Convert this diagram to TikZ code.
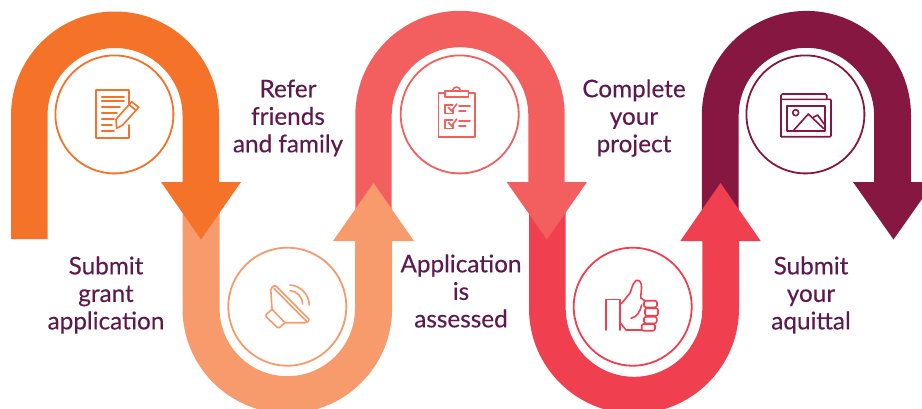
\documentclass[tikz,border=0pt]{standalone}
\usepackage{fontspec}
\setmainfont[FakeBold=0.25]{Lato}
\definecolor{cOrange}{HTML}{F47328}
\definecolor{cPeach}{HTML}{F79A6C}
\definecolor{cCoral}{HTML}{F35F5F}
\definecolor{cRed}{HTML}{F0404F}
\definecolor{cMaroon}{HTML}{861741}
\definecolor{cText}{HTML}{5E1A4E}
\tikzset{
  ring/.style={circle,draw=#1,fill=white,line width=1.8pt,minimum size=118pt,inner sep=0pt},
  icon/.style={draw=#1,line width=1.6pt,line join=round,line cap=round,fill=none},
  lbl/.style={text=cText,align=center,font=\fontsize{24.3}{27.5}\selectfont,inner sep=0pt}
}
\newcommand{\archshape}[8]{% colour,cx,cy,R,r,legend,headL,headR
  \fill[#1] (#2-#4,#6) -- (#2-#4,#3) arc[start angle=180,end angle=0,radius=#4pt]
    -- (#2+#4,182) -- (#8,182) -- ({(#7+#8)/2},239.5) -- (#7,182) -- (#2+#5,182)
    -- (#2+#5,#3) arc[start angle=0,end angle=180,radius=#5pt] -- (#2-#5,#6) -- cycle;
}
\newcommand{\ushape}[8]{% colour,cx,cy,R,r,legend,headL,headR
  \fill[#1] (#2-#4,#6) -- (#2-#4,#3) arc[start angle=180,end angle=360,radius=#4pt]
    -- (#2+#4,241) -- (#8,241) -- ({(#7+#8)/2},183) -- (#7,241) -- (#2+#5,241)
    -- (#2+#5,#3) arc[start angle=360,end angle=180,radius=#5pt] -- (#2-#5,#6) -- cycle;
}
\begin{document}
\begin{tikzpicture}[x=1pt,y=-1pt]
\useasboundingbox (0,0) rectangle (922,408);
\begin{scope}
\clip (0,0) rectangle (922,408);
\archshape{cMaroon}{806.4}{115.5}{104.6}{67.7}{225}{853}{934}
\ushape{cRed}{634}{308.5}{105}{68.3}{195}{680.3}{760.7}
\archshape{cCoral}{460}{115.5}{104.7}{68.3}{225}{506.7}{587}
\ushape{cPeach}{287.3}{308.5}{104.8}{67.7}{195}{333}{414}
\archshape{cOrange}{115}{115.5}{104}{67.5}{239}{161}{241}
\end{scope}
% circles
\node[ring=cOrange] (c1) at (114.4,114.4) {};
\node[ring=cPeach] (c2) at (287.3,306.7) {};
\node[ring=cCoral] (c3) at (459.7,114.4) {};
\node[ring=cRed] (c4) at (632.7,306.7) {};
\node[ring=cMaroon] (c5) at (805.4,114.4) {};
% labels
\node[lbl] (t1) at (106,295) {Submit\\grant\\application};
\node[lbl] (t2) at (288,118) {Refer\\friends\\and family};
\node[lbl] (t3) at (461,291) {Application\\is\\assessed};
\node[lbl] (t4) at (634,118) {Complete\\your\\project};
\node[lbl] (t5) at (811,295) {Submit\\your\\aquittal};
% icon 1: document with pencil
\draw[icon=cOrange] (129,105) -- (129,90) -- (96,90) -- (96,138) -- (129,138) -- (129,125);
\foreach \yy/\xx in {97/124,101/124,107/120,113/117,119/114,125/112,131/114}
  \draw[icon=cOrange] (101.7,\yy) -- (\xx,\yy);
\draw[icon=cOrange] (116,119.3) -- (131.7,101.7) -- (138.7,107.3) -- (122.7,125) -- (116.7,128.3) -- cycle;
\draw[icon=cOrange] (129,104.5) -- (135.8,110.2);
% icon 2: loudspeaker
\draw[icon=cPeach,rounded corners=1.5pt] (270.7,288.3) -- (275,285) -- (309.8,320) -- (306.7,322.7) -- (285,322.7) -- (272,309.3) -- cycle;
\draw[icon=cPeach] (274,288.5) -- (306.7,321.5);
\draw[icon=cPeach,rounded corners=1.5pt] (272,309.3) -- (265,315.5) -- (278.3,328.5) -- (285,322.7);
\draw[icon=cPeach] (290,285) .. controls (300,285.5) and (309,294) .. (309.3,305);
\draw[icon=cPeach] (290,290.7) .. controls (297,291) and (302.5,297) .. (302.7,304);
% icon 3: clipboard
\draw[icon=cCoral] (445,92.7) -- (438.3,92.7) -- (438.3,136.7) -- (475,136.7) -- (475,92.7) -- (468.3,92.7);
\draw[icon=cCoral] (445,91) rectangle (468.3,96.7);
\draw[icon=cCoral] (452.5,91) arc[start angle=180,end angle=0,radius=4pt];
\foreach \dy in {0,15}{
  \draw[icon=cCoral] (452.7,{105+\dy}) -- (445,{105+\dy}) -- (445,{113.3+\dy}) -- (452.7,{113.3+\dy}) -- (452.7,{110+\dy});
  \draw[icon=cCoral] (448.5,{107.5+\dy}) -- (451.5,{111+\dy}) -- (456.7,{104+\dy});
  \draw[icon=cCoral] (459,{106+\dy}) -- (470,{106+\dy});
  \draw[icon=cCoral] (459,{110.7+\dy}) -- (465.7,{110.7+\dy});
}
% icon 4: thumb up
\draw[icon=cRed] (606,330) -- (606,299.3) -- (620,299.3) -- (620,330);
\draw[icon=cRed] (620,304) -- (622,303) -- (630,293) .. controls (632,289) and (632,284) .. (636,280.5) .. controls (640,279) and (642,284) .. (641.5,288) -- (640.7,298) -- (645,300.7);
\draw[icon=cRed,rounded corners=2pt] (644,300.7) rectangle (657,307.3);
\draw[icon=cRed,rounded corners=2pt] (645,308.3) rectangle (658,315.7);
\draw[icon=cRed,rounded corners=2pt] (644,316.7) rectangle (656.7,323.3);
\draw[icon=cRed,rounded corners=2pt] (641.7,324) rectangle (655,330.7);
\draw[icon=cRed] (620,322.5) -- (626,330) -- (641.7,330);
\draw[icon=cRed] (641.7,305) .. controls (640,312) and (637,317) .. (631,318.3);
% icon 5: pictures
\draw[icon=cMaroon,rounded corners=1.5pt] (781,136.7) -- (781,94) -- (826.7,94) -- (826.7,99.3);
\draw[icon=cMaroon,rounded corners=1pt] (781,99.3) -- (831,99.3) -- (831,136.7) -- (781,136.7);
\draw[icon=cMaroon] (786.7,106) rectangle (825,130.7);
\draw[icon=cMaroon] (795.7,112.7) circle[radius=3pt];
\draw[icon=cMaroon] (793.3,130.7) -- (808.3,114) -- (823.3,128.3);
\draw[icon=cMaroon] (813.3,117.3) -- (817.7,115) -- (824,124);
\end{tikzpicture}
\end{document}
